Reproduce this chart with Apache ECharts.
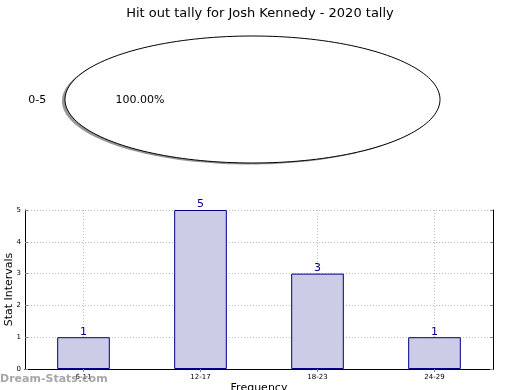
<!DOCTYPE html>
<html><head><meta charset="utf-8">
<script src="https://cdn.jsdelivr.net/npm/echarts@6/dist/echarts.min.js"></script>
<style>html,body{margin:0;padding:0;background:#fff}#c{width:520px;height:390px}</style>
</head><body><div id="c"></div>
<script>
var titleText = 'Hit out tally for Josh Kennedy - 2020 tally';
var pieLabels = ['0-5'];
var pieValues = [1];
var categories = ['6-11', '12-17', '18-23', '24-29'];
var barValues = [1, 5, 3, 1];
var yTicks = [0, 1, 2, 3, 4, 5];

var FONT = 'DejaVu Sans';
var chart = echarts.init(document.getElementById('c'), null, {renderer: 'canvas'});

var PIE = {cx: 252.5, cy: 99.5, rx: 187.5, ry: 63.5};
function ellipsePoints(cx, cy, rx, ry, a0, a1, full) {
  var pts = [];
  var n = 180;
  if (!full) pts.push([cx, cy]);
  for (var i = 0; i <= n; i++) {
    var a = a0 + (a1 - a0) * i / n;
    pts.push([cx + rx * Math.cos(a), cy - ry * Math.sin(a)]);
  }
  return pts;
}
var pieTotal = pieValues.reduce(function (s, v) { return s + v; }, 0);

function renderPie(params, api) {
  var idx = params.dataIndex;
  var before = 0;
  for (var i = 0; i < idx; i++) before += pieValues[i];
  var v = pieValues[idx];
  var a0 = before / pieTotal * 2 * Math.PI;
  var a1 = (before + v) / pieTotal * 2 * Math.PI;
  var full = v >= pieTotal;
  var mid = (a0 + a1) / 2;
  var pct = (v / pieTotal * 100).toFixed(2) + '%';
  var lx = PIE.cx + 1.1 * PIE.rx * Math.cos(mid);
  var ly = PIE.cy - 1.1 * PIE.ry * Math.sin(mid);
  var px = PIE.cx + 0.6 * PIE.rx * Math.cos(mid);
  var py = PIE.cy - 0.6 * PIE.ry * Math.sin(mid);
  return {
    type: 'group',
    children: [
      {type: 'polygon', shape: {points: ellipsePoints(PIE.cx - 3, PIE.cy + 1.5, PIE.rx, PIE.ry, a0, a1, full)},
        style: {fill: 'rgba(80,80,80,0.6)', stroke: 'none'}},
      {type: 'polygon', shape: {points: ellipsePoints(PIE.cx, PIE.cy, PIE.rx, PIE.ry, a0, a1, full)},
        style: {fill: '#ffffff', stroke: '#000', lineWidth: 1}},
      {type: 'text', x: lx, y: ly + 1, style: {text: pieLabels[idx], font: '11px "' + FONT + '"', fill: '#000',
        align: Math.cos(mid) < 0 ? 'right' : 'left', verticalAlign: 'middle'}},
      {type: 'text', x: px, y: py + 1, style: {text: pct, font: '11px "' + FONT + '"', fill: '#000',
        align: 'center', verticalAlign: 'middle'}}
    ]
  };
}

var option = {
  animation: false,
  backgroundColor: '#fff',
  textStyle: {fontFamily: FONT},
  title: {text: titleText, left: 'center', top: 2,
    textStyle: {fontFamily: FONT, fontSize: 13, fontWeight: 'normal', color: '#000'}},
  graphic: [{type: 'text', left: 0, top: 374, z: 100,
    style: {text: 'Dream-Stats.com', font: 'bold 11px "' + FONT + '"', fill: 'rgba(150,150,150,0.85)'}}],
  grid: {left: 25, right: 27, top: 210, bottom: 21, containLabel: false, outerBoundsMode: 'none'},
  xAxis: [{
    type: 'category', data: categories, position: 'bottom',
    name: 'Frequency', nameLocation: 'middle', nameGap: 14, nameMoveOverlap: false,
    nameTextStyle: {fontFamily: FONT, fontSize: 11, color: '#000'},
    axisLine: {lineStyle: {color: '#000', width: 1}},
    axisTick: {show: true, inside: true, alignWithLabel: true, length: 3, lineStyle: {color: '#888'}},
    axisLabel: {fontFamily: FONT, fontSize: 7, color: '#000', margin: 5},
    splitLine: {show: true, alignWithLabel: true, lineStyle: {color: '#bbb', type: [1, 2], width: 1}}
  }, {
    type: 'category', data: categories, position: 'top',
    axisLine: {lineStyle: {color: '#000', width: 1}},
    axisTick: {show: true, inside: true, alignWithLabel: true, length: 3, lineStyle: {color: '#888'}},
    axisLabel: {show: false}, splitLine: {show: false}
  }],
  yAxis: [{
    type: 'value', min: 0, max: 5, interval: 1, position: 'left',
    name: 'Stat Intervals', nameLocation: 'middle', nameGap: 10, nameRotate: 90, nameMoveOverlap: false,
    nameTextStyle: {fontFamily: FONT, fontSize: 11, color: '#000'},
    axisLine: {show: true, lineStyle: {color: '#000', width: 1}},
    axisTick: {show: true, inside: true, length: 3, lineStyle: {color: '#888'}},
    axisLabel: {fontFamily: FONT, fontSize: 7, color: '#000', margin: 4,
      formatter: function (v) { return yTicks.indexOf(v) >= 0 ? String(v) : ''; }},
    splitLine: {show: true, lineStyle: {color: '#bbb', type: [1, 2], width: 1}}
  }, {
    type: 'value', min: 0, max: 5, interval: 1, position: 'right',
    axisLine: {show: true, lineStyle: {color: '#000', width: 1}},
    axisTick: {show: true, inside: true, length: 3, lineStyle: {color: '#888'}},
    axisLabel: {show: false}, splitLine: {show: false}
  }],
  series: [{
    type: 'custom', coordinateSystem: 'none', renderItem: renderPie,
    data: pieValues.map(function (v, i) { return [i, v]; }), silent: true
  }, {
    type: 'bar', data: barValues, xAxisIndex: 0, yAxisIndex: 0, barWidth: '45%',
    itemStyle: {color: '#ccccE6', borderColor: '#00008b', borderWidth: 1},
    label: {show: true, position: 'top', distance: 0, color: '#00008b',
      fontFamily: FONT, fontSize: 11}
  }]
};
chart.setOption(option);
</script></body></html>
